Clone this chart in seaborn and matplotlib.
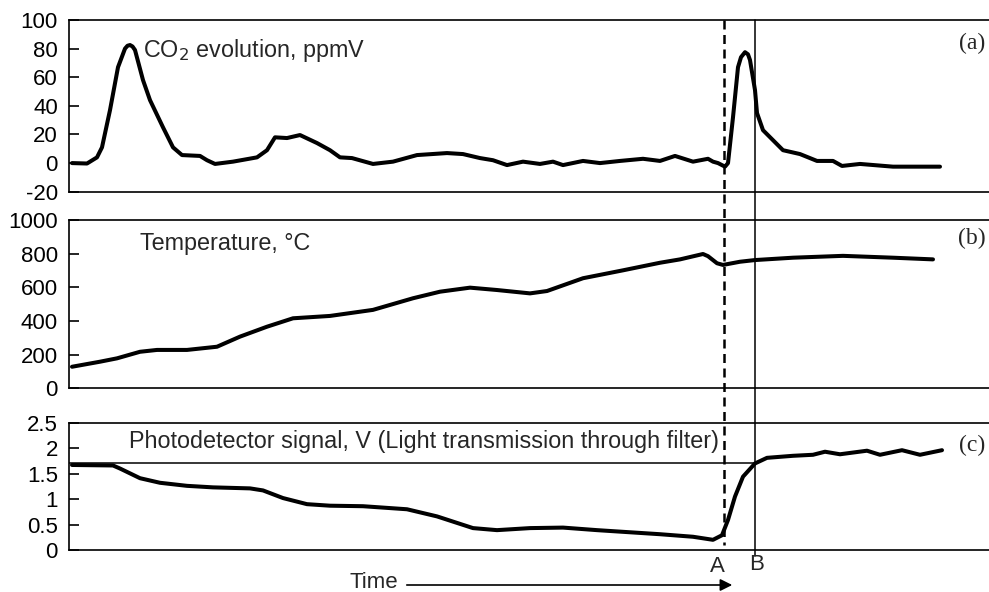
import numpy as np
import pandas as pd
import matplotlib
matplotlib.use("Agg")
import matplotlib.pyplot as plt
import matplotlib.transforms as mtransforms
from matplotlib.lines import Line2D
from matplotlib.patches import FancyArrowPatch
import seaborn as sns

# --- data (time in arbitrary units) ---
co2_time = [0.3, 1.8, 2.8, 3.3, 4.1, 4.9, 5.6, 5.85, 6.1, 6.35, 6.6, 7.4, 8.1, 9.4,
            10.4, 11.3, 13.1, 13.8, 14.6, 16.4, 18.8, 19.8, 20.6, 21.8, 23.1, 24.8,
            26.1, 27.1, 28.3, 30.4, 32.4, 34.8, 37.8, 39.4, 41.1, 42.4, 43.8, 45.4,
            47.1, 48.4, 49.4, 51.4, 53.1, 55.1, 57.4, 59.1, 60.6, 62.4, 63.9, 64.4,
            64.9, 65.6, 65.9, 66.4, 66.9, 67.2, 67.6, 67.9, 68.1, 68.6, 68.8, 69.4,
            71.4, 73.1, 74.8, 76.4, 77.3, 79.1, 82.4, 87.1]
co2_ppm = [0, -0.3, 4, 11, 37, 67, 80, 82, 82.5, 81.5, 79, 58, 44, 25,
           11, 5.6, 5, 2, -0.6, 1, 4, 9, 18, 17.5, 19.6, 14,
           9, 4, 3.5, -0.6, 1, 5.6, 7, 6.3, 3.5, 2, -1.4, 1,
           -0.6, 1, -1.4, 1.5, 0, 1.5, 3, 1.5, 5, 1, 3, 1,
           0, -2.5, 0, 32, 67, 74, 77.5, 76, 72, 51, 35, 23,
           9, 6.3, 1.5, 1.5, -2, -0.6, -2.5, -2.5]

temp_time = [0.3, 3.1, 4.8, 7.1, 8.8, 11.8, 14.8, 17.1, 19.8, 22.4, 26.1, 30.4,
             34.4, 37.1, 40.1, 42.8, 46.1, 47.8, 51.4, 55.4, 59.1, 61.1, 63.4,
             63.9, 64.8, 65.4, 67.1, 68.6, 72.4, 77.4, 82.4, 86.4]
temp_c = [128, 158, 178, 217, 228, 228, 247, 307, 366, 416, 430, 466,
          535, 574, 598, 584, 564, 578, 654, 701, 746, 766, 798,
          785, 743, 733, 752, 762, 776, 787, 776, 766]

photo_time = [0.3, 4.4, 5.1, 7.1, 9.1, 11.8, 14.4, 18.1, 19.4, 21.4, 23.8, 26.1,
              29.4, 33.8, 36.8, 40.4, 42.8, 46.1, 49.4, 52.8, 59.1, 62.4, 64.4,
              65.3, 65.9, 66.6, 67.4, 68.6, 69.8, 72.4, 74.4, 75.6, 77.1, 79.8,
              81.1, 83.3, 85.1, 87.3]
photo_v = [1.67, 1.66, 1.60, 1.41, 1.32, 1.26, 1.23, 1.21, 1.17, 1.02, 0.90, 0.87,
           0.86, 0.80, 0.66, 0.43, 0.39, 0.43, 0.44, 0.39, 0.31, 0.26, 0.20,
           0.29, 0.59, 1.05, 1.44, 1.70, 1.81, 1.85, 1.87, 1.93, 1.88, 1.95,
           1.87, 1.96, 1.87, 1.96]

time_A = 65.5
time_B = 68.6
photo_ref = 1.7

co2_ticks = [-20, 0, 20, 40, 60, 80, 100]
temp_ticks = [0, 200, 400, 600, 800, 1000]
photo_ticks = [0, 0.5, 1, 1.5, 2, 2.5]
photo_ticklabels = ["0", "0.5", "1", "1.5", "2", "2.5"]

sns.set_style("white")
plt.rcParams['font.family'] = ['Liberation Sans', 'DejaVu Sans']
plt.rcParams['axes.unicode_minus'] = False

fig = plt.figure(figsize=(9.89, 5.92), dpi=100)
W, H = 989, 592
left = 69 / W
width = 920 / W
ax_a = fig.add_axes([left, 1 - 191.7 / H, width, 171.7 / H])
ax_b = fig.add_axes([left, 1 - 388.3 / H, width, 168.3 / H])
ax_c = fig.add_axes([left, 1 - 550 / H, width, 127.3 / H])

curve_kw = dict(color='black', linewidth=2.9, solid_joinstyle='round',
                solid_capstyle='round', sort=False, estimator=None)

sns.lineplot(data=pd.DataFrame({'t': co2_time, 'v': co2_ppm}), x='t', y='v', ax=ax_a, **curve_kw)
sns.lineplot(data=pd.DataFrame({'t': temp_time, 'v': temp_c}), x='t', y='v', ax=ax_b, **curve_kw)
sns.lineplot(data=pd.DataFrame({'t': photo_time, 'v': photo_v}), x='t', y='v', ax=ax_c, **curve_kw)

ax_c.hlines(photo_ref, 0, time_B, color='black', linewidth=1.1)

fs = 16
fs_title = 16.8
for ax, lim, ticks in [(ax_a, (-20, 100), co2_ticks),
                       (ax_b, (0, 1000), temp_ticks),
                       (ax_c, (0, 2.5), photo_ticks)]:
    ax.set_xlim(0, 92)
    ax.set_ylim(*lim)
    ax.set_yticks(ticks)
    ax.set_xticks([])
    ax.set_xlabel('')
    ax.set_ylabel('')
    ax.spines['right'].set_visible(False)
    for s in ['left', 'top', 'bottom']:
        ax.spines[s].set_linewidth(1.2)
        ax.spines[s].set_color('black')
    ax.tick_params(axis='y', direction='in', length=7, width=1.2, pad=8,
                   labelsize=fs, colors='black', left=True)
ax_c.set_yticklabels(photo_ticklabels)

# panel titles
ax_a.text(0.080, 0.825, 'CO$_2$ evolution, ppmV', transform=ax_a.transAxes,
          fontsize=fs_title, va='center', ha='left')
ax_b.text(0.077, 0.862, 'Temperature, \u00b0C', transform=ax_b.transAxes,
          fontsize=fs_title, va='center', ha='left')
ax_c.text(0.065, 0.851, 'Photodetector signal, V (Light transmission through filter)',
          transform=ax_c.transAxes, fontsize=fs_title, va='center', ha='left')

serif = ['Liberation Serif', 'DejaVu Serif']
for ax, lab, yy in [(ax_a, '(a)', 0.866), (ax_b, '(b)', 0.893), (ax_c, '(c)', 0.825)]:
    ax.text(0.996, yy, lab, transform=ax.transAxes, fontsize=17, va='center',
            ha='right', family=serif)

# vertical markers A and B running through all panels
trans = mtransforms.blended_transform_factory(ax_c.transData, fig.transFigure)
fig.add_artist(Line2D([time_A, time_A], [1 - 20 / H, 1 - 545 / H], transform=trans,
                      color='black', linewidth=1.8, linestyle=(0, (3.6, 2.2))))
fig.add_artist(Line2D([time_B, time_B], [1 - 20 / H, 1 - 556 / H], transform=trans,
                      color='black', linewidth=1.1))
fig.text(717 / W, 1 - 567 / H, 'A', fontsize=fs, ha='center', va='center')
fig.text(757 / W, 1 - 564 / H, 'B', fontsize=fs, ha='center', va='center')

# time arrow
fig.text(398 / W, 1 - 582 / H, 'Time', fontsize=fs, ha='right', va='center')
fig.add_artist(FancyArrowPatch(
    (404 / W, 1 - 585 / H), (735 / W, 1 - 585 / H), transform=fig.transFigure,
    arrowstyle='-|>', mutation_scale=18, color='black', linewidth=1.2))

fig.savefig('out.png', dpi=100)
